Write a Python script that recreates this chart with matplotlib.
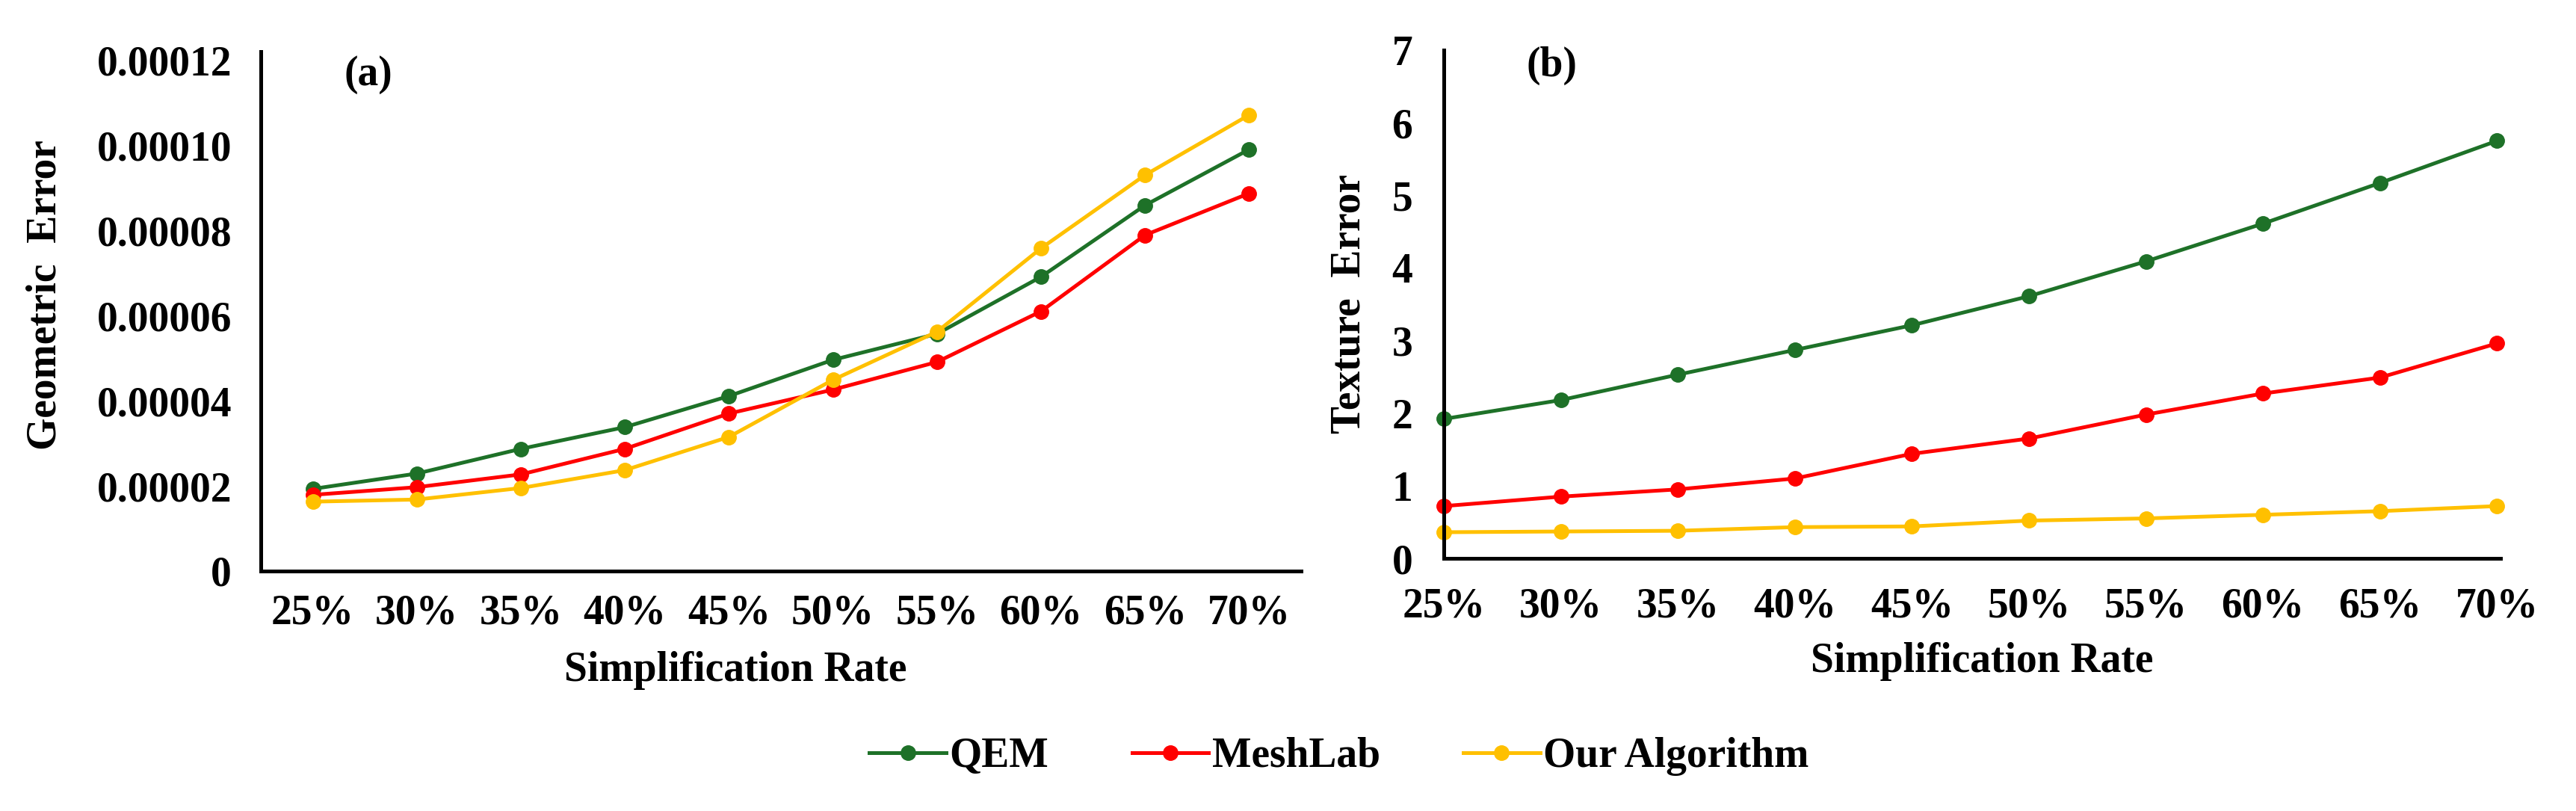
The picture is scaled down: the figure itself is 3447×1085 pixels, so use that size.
import matplotlib
matplotlib.use("Agg")
import matplotlib.pyplot as plt
from matplotlib.lines import Line2D
from matplotlib.ticker import FixedLocator, FixedFormatter

plt.rcParams["font.family"] = ["Liberation Serif", "DejaVu Serif"]
plt.rcParams["font.weight"] = "bold"

rates = ["25%", "30%", "35%", "40%", "45%", "50%", "55%", "60%", "65%", "70%"]

geo_qem = [1.93e-5, 2.29e-5, 2.87e-5, 3.38e-5, 4.11e-5, 4.96e-5, 5.57e-5, 6.91e-5, 8.59e-5, 9.90e-5]
geo_meshlab = [1.79e-5, 1.97e-5, 2.27e-5, 2.87e-5, 3.70e-5, 4.26e-5, 4.91e-5, 6.10e-5, 7.89e-5, 8.87e-5]
geo_ours = [1.63e-5, 1.68e-5, 1.95e-5, 2.37e-5, 3.15e-5, 4.49e-5, 5.62e-5, 7.58e-5, 9.30e-5, 1.071e-4]

tex_qem = [1.92, 2.18, 2.53, 2.87, 3.21, 3.61, 4.09, 4.61, 5.17, 5.75]
tex_meshlab = [0.72, 0.85, 0.95, 1.10, 1.44, 1.65, 1.98, 2.27, 2.49, 2.96]
tex_ours = [0.36, 0.37, 0.38, 0.43, 0.44, 0.52, 0.55, 0.60, 0.65, 0.72]

geo_ticks = [0, 0.00002, 0.00004, 0.00006, 0.00008, 0.00010, 0.00012]
geo_tick_labels = ["0", "0.00002", "0.00004", "0.00006", "0.00008", "0.00010", "0.00012"]
tex_ticks = [0, 1, 2, 3, 4, 5, 6, 7]

series_names = ["QEM", "MeshLab", "Our Algorithm"]
colors = ["#1e7128", "#ff0000", "#ffc000"]

W, H = 3448, 1085
FS = 40

fig = plt.figure(figsize=(W / 100, H / 100), dpi=100)


def px_axes(left, top, right, bottom):
    return fig.add_axes([left / W, 1 - bottom / H, (right - left) / W, (bottom - top) / H])


def style_axes(ax):
    for side in ["top", "right"]:
        ax.spines[side].set_visible(False)
    for side in ["left", "bottom"]:
        ax.spines[side].set_linewidth(3.6)
        ax.spines[side].set_color("black")
    ax.tick_params(length=0, labelsize=FS)
    for lab in ax.get_xticklabels() + ax.get_yticklabels():
        lab.set_fontweight("bold")


def draw_lines(ax, x, data):
    for values, color in zip(data, colors):
        ax.plot(x, values, color=color, lw=3.6, marker="o", ms=14, clip_on=False)


# panel (a)
ax1 = px_axes(349, 69, 1741, 764)
x1 = list(range(len(rates)))
draw_lines(ax1, x1, [geo_qem, geo_meshlab, geo_ours])
ax1.set_xlim(-0.5, len(rates) - 0.5)
ax1.set_ylim(0, 0.000122)
ax1.yaxis.set_major_locator(FixedLocator(geo_ticks))
ax1.yaxis.set_major_formatter(FixedFormatter(geo_tick_labels))
ax1.set_xticks(x1)
ax1.set_xticklabels(rates)
style_axes(ax1)
ax1.tick_params(axis="y", pad=28)
ax1.tick_params(axis="x", pad=22)
ax1.text(0.08, 0.955, "(a)", transform=ax1.transAxes, fontsize=FS,
         fontweight="bold", ha="left", va="center")

# panel (b)
ax2 = px_axes(1932, 67, 3346, 747)
draw_lines(ax2, x1, [tex_qem, tex_meshlab, tex_ours])
ax2.set_xlim(0, len(rates) - 1 + 0.03)
ax2.set_ylim(0, 7)
ax2.set_yticks(tex_ticks)
ax2.set_xticks(x1)
ax2.set_xticklabels(rates)
style_axes(ax2)
ax2.tick_params(axis="y", pad=30)
ax2.tick_params(axis="x", pad=28)
ax2.text(0.078, 0.97, "(b)", transform=ax2.transAxes, fontsize=FS,
         fontweight="bold", ha="left", va="center")

# axis titles
fig.text(61 / W, 1 - 395 / H, "Geometric  Error", rotation=90, fontsize=FS,
         fontweight="bold", ha="center", va="center")
fig.text(1806 / W, 1 - 407 / H, "Texture  Error", rotation=90, fontsize=FS,
         fontweight="bold", ha="center", va="center")
fig.text(984 / W, 1 - 897 / H, "Simplification Rate", fontsize=FS,
         fontweight="bold", ha="center", va="center")
fig.text(2652 / W, 1 - 885 / H, "Simplification Rate", fontsize=FS,
         fontweight="bold", ha="center", va="center")

# legend
handles = [Line2D([], [], color=c, lw=3.6, marker="o", ms=14) for c in colors]
fig.legend(handles, series_names, loc="center", bbox_to_anchor=(1792 / W, 1 - 1012 / H),
           ncol=3, frameon=False, fontsize=FS, handlelength=1.85, handletextpad=0.08,
           columnspacing=2.0, prop={"weight": "bold", "size": FS})

fig.savefig("out.png", dpi=100)
